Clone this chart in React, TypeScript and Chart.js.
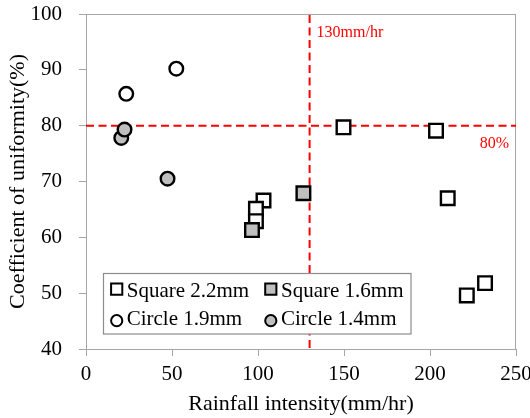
import React, { useEffect, useRef } from "react";
import { Chart, registerables } from "chart.js";

Chart.register(...registerables);

// ---- Data ----
const square22X = [149.7, 203.5, 210.3, 221.4, 232.0, 103.2, 98.8, 98.8];
const square22Y = [79.7, 79.1, 67.0, 49.6, 51.8, 66.6, 65.1, 62.9];
const square16X = [96.5, 126.4];
const square16Y = [61.3, 67.9];
const circle19X = [23.4, 52.5];
const circle19Y = [85.7, 90.2];
const circle14X = [20.5, 22.4, 47.4];
const circle14Y = [77.8, 79.3, 70.5];

const seriesLabels = ["Square 2.2mm", "Square 1.6mm", "Circle 1.9mm", "Circle 1.4mm"];
const xTicks = [0, 50, 100, 150, 200, 250];
const yTicks = [40, 50, 60, 70, 80, 90, 100];
const thresholdX = 130;
const thresholdY = 80;
const thresholdXLabel = "130mm/hr";
const thresholdYLabel = "80%";
const xTitle = "Rainfall intensity(mm/hr)";
const yTitle = "Coefficient of uniformity(%)";

const FONT = "'Liberation Serif', 'Times New Roman', serif";
const AXIS_GRAY = "#a6a6a6";
const FILL_GRAY = "#bfbfbf";

const toPts = (xs: number[], ys: number[]) => xs.map((x, i) => ({ x, y: ys[i] }));

const overlayPlugin = {
  id: "overlay",
  beforeDatasetsDraw(chart: any) {
    const { ctx, chartArea: a, scales } = chart;
    const x = scales.x;
    const y = scales.y;
    ctx.save();
    // top & right frame
    ctx.strokeStyle = AXIS_GRAY;
    ctx.lineWidth = 1;
    ctx.beginPath();
    ctx.moveTo(a.left, Math.round(a.top) + 0.5);
    ctx.lineTo(a.right, Math.round(a.top) + 0.5);
    ctx.moveTo(Math.round(a.right) - 0.5, a.top);
    ctx.lineTo(Math.round(a.right) - 0.5, a.bottom);
    ctx.stroke();
    // dashed threshold lines
    const px = x.getPixelForValue(thresholdX);
    const py = y.getPixelForValue(thresholdY);
    ctx.strokeStyle = "#ff0000";
    ctx.lineWidth = 2;
    ctx.setLineDash([8, 4.5]);
    ctx.beginPath();
    ctx.moveTo(px, a.top + 1);
    ctx.lineTo(px, a.bottom);
    ctx.stroke();
    ctx.beginPath();
    ctx.moveTo(a.left, py);
    ctx.lineTo(a.right, py);
    ctx.stroke();
    ctx.setLineDash([]);
    // labels
    ctx.fillStyle = "#ff0000";
    ctx.font = `16px ${FONT}`;
    ctx.textBaseline = "alphabetic";
    ctx.textAlign = "left";
    ctx.fillText(thresholdXLabel, px + 7, a.top + 23);
    ctx.textAlign = "right";
    ctx.fillText(thresholdYLabel, a.right - 7, py + 22);
    ctx.restore();
  },
  afterDraw(chart: any) {
    const { ctx } = chart;
    ctx.save();
    // legend box
    ctx.fillStyle = "#ffffff";
    ctx.fillRect(103.5, 273.5, 307.5, 60.5);
    ctx.strokeStyle = "#8c8c8c";
    ctx.lineWidth = 1.2;
    ctx.strokeRect(103.5, 273.5, 307.5, 60.5);
    const colMarker = [116.7, 270.8];
    const colText = [126.7, 281];
    const rowMarker = [289.2, 320.7];
    const rowText = [296.5, 325];
    chart.data.datasets.forEach((ds: any, i: number) => {
      const col = i % 2;
      const row = Math.floor(i / 2);
      const cx = colMarker[col];
      const cy = rowMarker[row];
      ctx.fillStyle = ds.backgroundColor;
      ctx.strokeStyle = "#000000";
      ctx.lineWidth = 2;
      ctx.beginPath();
      if (ds.pointStyle === "rect") {
        ctx.rect(cx - 5.6, cy - 5.6, 11.2, 11.2);
      } else {
        ctx.arc(cx, cy, 5.6, 0, Math.PI * 2);
      }
      ctx.fill();
      ctx.stroke();
      ctx.fillStyle = "#000000";
      ctx.font = `21px ${FONT}`;
      ctx.textAlign = "left";
      ctx.textBaseline = "alphabetic";
      ctx.fillText(ds.label, colText[col], rowText[row]);
    });
    ctx.restore();
  },
};

export default function App() {
  const canvasRef = useRef<HTMLCanvasElement | null>(null);

  useEffect(() => {
    if (!canvasRef.current) return;
    const common = {
      borderColor: "#000000",
      borderWidth: 2.4,
      showLine: false,
    };
    const chart = new Chart(canvasRef.current, {
      type: "scatter",
      data: {
        datasets: [
          {
            ...common,
            label: seriesLabels[0],
            data: toPts(square22X, square22Y),
            backgroundColor: "#ffffff",
            pointStyle: "rect",
            pointRadius: 9.6,
            order: 4,
          },
          {
            ...common,
            label: seriesLabels[1],
            data: toPts(square16X, square16Y),
            backgroundColor: FILL_GRAY,
            pointStyle: "rect",
            pointRadius: 9.6,
            order: 3,
          },
          {
            ...common,
            label: seriesLabels[2],
            data: toPts(circle19X, circle19Y),
            backgroundColor: "#ffffff",
            pointStyle: "circle",
            pointRadius: 6.8,
            order: 2,
          },
          {
            ...common,
            label: seriesLabels[3],
            data: toPts(circle14X, circle14Y),
            backgroundColor: FILL_GRAY,
            pointStyle: "circle",
            pointRadius: 6.8,
            order: 1,
          },
        ],
      } as any,
      options: {
        responsive: false,
        animation: false,
        devicePixelRatio: 1,
        layout: { padding: { top: 14, right: 14, left: 0, bottom: 0 } },
        plugins: {
          legend: { display: false },
          tooltip: { enabled: false },
        },
        scales: {
          x: {
            type: "linear",
            min: 0,
            max: 250,
            afterBuildTicks: (s: any) => {
              s.ticks = xTicks.map((v) => ({ value: v }));
            },
            afterFit: (s: any) => {
              s.height = 69;
              s.paddingLeft = 0;
              s.paddingRight = 0;
              s.paddingTop = 0;
              s.paddingBottom = 0;
            },
            grid: {
              drawOnChartArea: false,
              drawTicks: true,
              tickLength: 7,
              color: AXIS_GRAY,
            },
            border: { color: AXIS_GRAY, width: 1 },
            ticks: {
              color: "#000000",
              font: { family: FONT, size: 21 },
              padding: 5.5,
              maxRotation: 0,
            },
            title: {
              display: true,
              text: xTitle,
              color: "#000000",
              font: { family: FONT, size: 22 },
              padding: { top: 0, bottom: 0.5 },
            },
          },
          y: {
            type: "linear",
            min: 40,
            max: 100,
            afterBuildTicks: (s: any) => {
              s.ticks = yTicks.map((v) => ({ value: v }));
            },
            afterFit: (s: any) => {
              s.width = 86;
              s.paddingLeft = 0;
              s.paddingRight = 0;
              s.paddingTop = 0;
              s.paddingBottom = 0;
            },
            grid: {
              drawOnChartArea: false,
              drawTicks: true,
              tickLength: 7,
              color: AXIS_GRAY,
            },
            border: { color: AXIS_GRAY, width: 1 },
            ticks: {
              color: "#000000",
              font: { family: FONT, size: 21 },
              padding: 17,
            },
            title: {
              display: true,
              text: yTitle,
              color: "#000000",
              font: { family: FONT, size: 22 },
              padding: { top: 4.8, bottom: 0 },
            },
          },
        },
      } as any,
      plugins: [overlayPlugin],
    });
    return () => chart.destroy();
  }, []);

  return (
    <div style={{ position: "absolute", left: 0, top: 0, width: 530, height: 418, background: "#ffffff" }}>
      <canvas ref={canvasRef} width={530} height={418} />
    </div>
  );
}
